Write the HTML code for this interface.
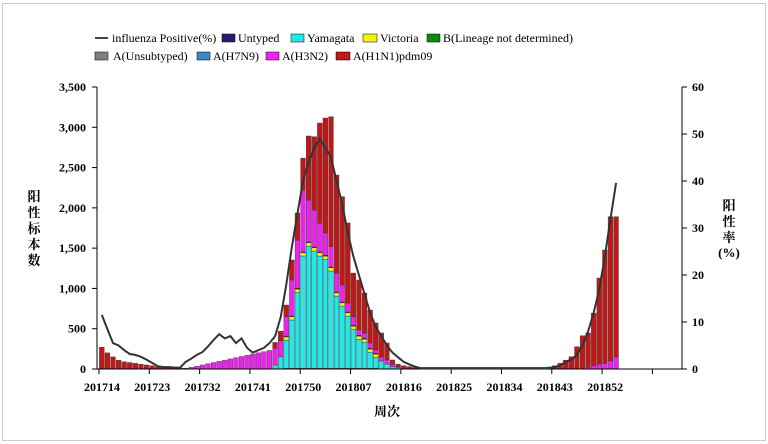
<!DOCTYPE html>
<html><head><meta charset="utf-8"><style>
html,body{margin:0;padding:0;background:#fff}
svg{display:block}
text{font-family:"Liberation Serif","Noto Serif CJK SC",serif}
</style></head><body>
<svg id="s" width="768" height="444" xmlns="http://www.w3.org/2000/svg">
<rect x="0" y="0" width="768" height="444" fill="#fff"/>
<rect x="2.5" y="3.5" width="763" height="437" fill="none" stroke="#ccc"/>
<g font-size="12">
<line x1="95" y1="38" x2="108" y2="38" stroke="#000" stroke-width="1.5"/>
<text x="112" y="42">influenza Positive(%)</text>
<rect x="222" y="34" width="13" height="8" fill="#2a1a6e" stroke="#000" stroke-width="0.5"/><text x="238" y="42">Untyped</text>
<rect x="291" y="34" width="13" height="8" fill="#22e8e8" stroke="#000" stroke-width="0.5"/><text x="307" y="42">Yamagata</text>
<rect x="363" y="34" width="14" height="8" fill="#f4f400" stroke="#000" stroke-width="0.5"/><text x="380" y="42">Victoria</text>
<rect x="427" y="34" width="13" height="8" fill="#108a10" stroke="#000" stroke-width="0.5"/><text x="443" y="42">B(Lineage not determined)</text>
<rect x="95" y="52" width="13" height="8" fill="#808080" stroke="#000" stroke-width="0.5"/><text x="113" y="60">A(Unsubtyped)</text>
<rect x="197" y="52" width="13" height="8" fill="#3a8ac8" stroke="#000" stroke-width="0.5"/><text x="213" y="60">A(H7N9)</text>
<rect x="266" y="52" width="13" height="8" fill="#ee22ee" stroke="#000" stroke-width="0.5"/><text x="282" y="60">A(H3N2)</text>
<rect x="336" y="52" width="14" height="8" fill="#c01818" stroke="#000" stroke-width="0.5"/><text x="353" y="60">A(H1N1)pdm09</text>
</g>
<g id="bars"></g>
<g id="axes" stroke="#000" stroke-width="1"></g>
<polyline id="ln" fill="none" stroke="#333" stroke-width="2"/>
<g font-size="12" font-weight="bold" id="lbl"></g>
<g font-size="13" font-weight="bold">
<text x="34" y="201" text-anchor="middle">阳</text>
<text x="34" y="217" text-anchor="middle">性</text>
<text x="34" y="233" text-anchor="middle">标</text>
<text x="34" y="249" text-anchor="middle">本</text>
<text x="34" y="265" text-anchor="middle">数</text>
<text x="729" y="210" text-anchor="middle">阳</text>
<text x="729" y="226" text-anchor="middle">性</text>
<text x="729" y="242" text-anchor="middle">率</text>
<text x="729" y="257" text-anchor="middle">(%)</text>
<text x="387" y="416" text-anchor="middle">周次</text>
</g>
</svg>
<script>
var NS="http://www.w3.org/2000/svg";
function el(t,a,p){var e=document.createElementNS(NS,t);for(var k in a)e.setAttribute(k,a[k]);p.appendChild(e);return e;}
var X0=99,W=5.59,Y0=369,K=282/3500;
var tot={},cy={},mg={};
var early=[270,200,150,110,90,80,70,60,50,40,30,22,18,15,12,10,10,10];
early.forEach(function(v,i){tot[i]=v;});
for(var i=16;i<=30;i++){tot[i]=20+(i-16)*15; mg[i]=tot[i];}
var T={31:330,32:470,33:794,34:1353,35:1936,36:2618,37:2892,38:2883,39:3053,40:3115,41:3131,42:2407,43:2139,44:1812,45:1191,46:1105,47:943,48:732,49:571,50:447,51:323,52:112,53:60,54:40,55:30,56:20};
var C={31:50,32:150,33:350,34:600,35:943,36:1394,37:1518,38:1456,39:1394,40:1353,41:1208,42:897,43:773,44:649,45:484,46:360,47:323,48:199,49:136,50:100,51:60,52:30,53:15};
var M={31:260,32:350,33:649,34:1105,35:1600,36:2220,37:2097,38:1973,39:1812,40:1688,41:1518,42:1191,43:1042,44:819,45:649,46:484,47:447,48:323,49:240,50:150,51:112,52:60,53:30};
for(var k in T){tot[k]=T[k];cy[k]=C[k]||0;mg[k]=M[k]||0;}
for(var i=57;i<=80;i++)tot[i]=8;
var R={79:15,80:25,81:40,82:70,83:110,84:153,85:277,86:413,87:447,88:694,89:1129,90:1477,91:1890,92:1890};
var RM={87:20,88:40,89:60,90:70,91:100,92:150};
for(var k in R){tot[k]=R[k];mg[k]=RM[k]||0;}
var g=document.getElementById('bars');
for(var i=0;i<=92;i++){var t=tot[i];if(!t)continue;var x=X0+W*i+0.4,w=W-0.8;
 var c=cy[i]||0,m=mg[i]||0,y=0;
 function seg(v,col){if(v<=0)return;var h=v*K;el('rect',{x:x,y:Y0-(y+v)*K,width:w,height:h,fill:col,stroke:'#333','stroke-width':0.4},g);y+=v;}
 if(i>=33&&i<=49){seg(8,'#2a1a6e');}
 seg(c,'#22e8e8');
 if(i>=33&&i<=49){seg(40,'#f4f400');seg(10,'#2a1a6e');}
 var mm=Math.max(0,Math.min(m,t)-y);seg(mm,'#ee22ee');
 seg(t-y,'#c01818');
}
var ax=document.getElementById('axes'),lb=document.getElementById('lbl');
el('line',{x1:97,y1:87,x2:97,y2:369},ax);
el('line',{x1:682,y1:87,x2:682,y2:369},ax);
el('line',{x1:97,y1:369,x2:682,y2:369},ax);
for(var v=0;v<=3500;v+=500){var y=Y0-v*K;el('line',{x1:92,y1:y,x2:97,y2:y},ax);
 var t=el('text',{x:86,y:y+4,'text-anchor':'end'},lb);t.textContent=v>=1000?(Math.floor(v/1000)+','+String(v%1000).padStart(3,'0')):v;}
for(var v=0;v<=60;v+=10){var y=Y0-v*4.7;el('line',{x1:682,y1:y,x2:687,y2:y},ax);
 var t=el('text',{x:692,y:y+4},lb);t.textContent=v;}
var labs=['201714','201723','201732','201741','201750','201807','201816','201825','201834','201843','201852'];
for(var j=0;j<12;j++){var x=X0+W*9*j;el('line',{x1:x,y1:369,x2:x,y2:374},ax);
 if(j<11){var t=el('text',{x:x+3,y:391,'text-anchor':'middle'},lb);t.textContent=labs[j];}}
var P={0:11.5,1:8.5,2:5.5,3:5,4:4,5:3.2,6:3,7:2.6,8:2,9:1.3,10:0.6,11:0.4,12:0.4,13:0.3,14:0.3,15:1.5,16:2.2,17:3,18:3.6,19:4.8,20:6.2,21:7.4,22:6.5,23:7,24:5.5,25:6.5,26:4.5,27:3.5,28:4,29:4.5,30:5.5,31:7,32:11,33:18,34:26,35:33,36:40,37:44,38:47,39:49,40:47,41:45,42:40,43:35,44:29,45:24,46:20,47:16,48:12,49:9,50:7,51:5,52:3.5,53:2.5,54:1.5,55:1,56:0.5,81:0.4,82:0.8,83:1.5,84:2,85:3,86:5,87:8,88:12,89:17,90:24,91:32,92:39.6};
var pts=[];for(var i=0;i<=92;i++){var v=P[i]!==undefined?P[i]:0.2;pts.push((X0+W*i+W/2).toFixed(1)+','+(Y0-v*4.7).toFixed(1));}
document.getElementById('ln').setAttribute('points',pts.join(' '));
</script>
</body></html>
